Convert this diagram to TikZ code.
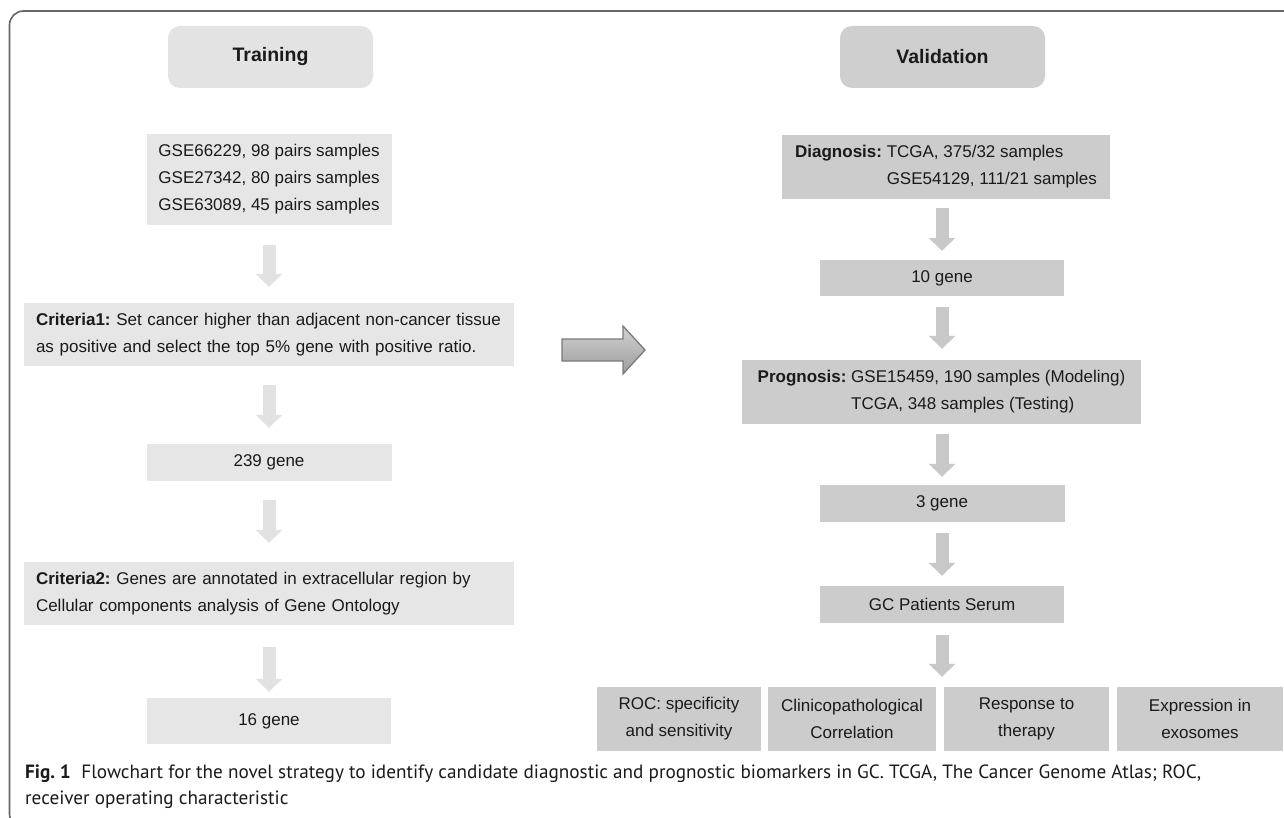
\documentclass[tikz,border=0pt]{standalone}
\usepackage{fontspec}
\setmainfont{Liberation Sans}
\newfontfamily\capfont{PT Sans}
\usetikzlibrary{arrows.meta,calc}
\definecolor{lboxc}{HTML}{E6E6E6}
\definecolor{lhdrc}{HTML}{E3E3E3}
\definecolor{larrc}{HTML}{E2E2E2}
\definecolor{rboxc}{HTML}{CCCCCC}
\definecolor{rhdrc}{HTML}{CFCFCF}
\definecolor{rarrc}{HTML}{C8C8C8}
\definecolor{txtc}{HTML}{1A1A1A}
\definecolor{framec}{HTML}{666666}
\definecolor{bigtop}{HTML}{D2D2D2}
\definecolor{bigbot}{HTML}{9C9C9C}
\definecolor{bigedge}{HTML}{7A7A7A}
\tikzset{
  base/.style={inner sep=0pt, font=\fontsize{17}{27}\selectfont\frenchspacing, text=txtc},
  hdr/.style={inner sep=0pt, rounded corners=12pt, minimum width=205pt, minimum height=62pt,
    font=\fontsize{19.5}{24}\selectfont\bfseries, text=txtc},
  lb/.style={base, fill=lboxc},
  rb/.style={base, fill=rboxc},
  larr/.style={line width=13pt, draw=larrc, -{Triangle[width=26pt,length=13pt]}},
  rarr/.style={line width=13pt, draw=rarrc, -{Triangle[width=26pt,length=13pt]}},
  capnode/.style={inner sep=0pt, align=left, text=txtc,
    font=\capfont\fontsize{19.2}{26}\selectfont\frenchspacing}
}
\begin{document}
\begin{tikzpicture}[x=1pt,y=-1pt]
\useasboundingbox (0,0) rectangle (1284,818);
\clip (0,0) rectangle (1284,818);
\fill[white] (0,0) rectangle (1284,818);
% page frame
\draw[framec, line width=1.6pt, rounded corners=14pt] (1300,11) -- (9.5,11) -- (9.5,828) -- (40,828);

% headers
\node[hdr, fill=lhdrc] (train) at (270.5,57) {Training};
\node[hdr, fill=rhdrc] (valid) at (942.5,57) {Validation};

% left column
\node[lb, minimum width=245pt, minimum height=91pt, align=left] (gse) at (269,179.5)
  {GSE66229, 98 pairs samples\\GSE27342, 80 pairs samples\\GSE63089, 45 pairs samples};
\node[lb, text width=466pt, inner xsep=12pt, minimum height=63pt, align=left] (c1) at (269,334.5)
  {\mbox{\textbf{Criteria1:} Set cancer higher than adjacent non-cancer tissue}\\\mbox{as positive and select the top 5\% gene with positive ratio.}};
\node[lb, minimum width=245pt, minimum height=37pt] (g239) at (269,462.5) {239 gene};
\node[lb, text width=466pt, inner xsep=12pt, minimum height=63pt, align=left] (c2) at (269,593.5)
  {\mbox{\textbf{Criteria2:} Genes are annotated in extracellular region by}\\\mbox{Cellular components analysis of Gene Ontology}};
\node[lb, minimum width=244pt, minimum height=46pt] (g16) at (269,721) {16 gene};

% right column
\node[rb, minimum width=328pt, minimum height=64pt, align=left] (diag) at (946,167)
  {\textbf{Diagnosis:} TCGA, 375/32 samples\\\phantom{\textbf{Diagnosis:} }GSE54129, 111/21 samples};
\node[rb, minimum width=244pt, minimum height=36pt] (g10) at (942,278) {10 gene};
\node[rb, minimum width=399pt, minimum height=64pt, align=left] (prog) at (941.5,392)
  {\textbf{Prognosis:} GSE15459, 190 samples (Modeling)\\\phantom{\textbf{Prognosis:} }TCGA, 348 samples (Testing)};
\node[rb, minimum width=245pt, minimum height=37pt] (g3) at (942,503.5) {3 gene};
\node[rb, minimum width=244pt, minimum height=37pt] (serum) at (942,604.5) {GC Patients Serum};

\node[rb, minimum width=164pt, minimum height=64pt, align=center] (b1) at (679,719)
  {ROC: specificity\\and sensitivity};
\node[rb, minimum width=168pt, minimum height=64pt, align=center] (b2) at (852,719)
  {Clinicopathological\\Correlation};
\node[rb, minimum width=165pt, minimum height=64pt, align=center] (b3) at (1026.5,719)
  {Response to\\therapy};
\node[rb, minimum width=166pt, minimum height=64pt, align=center] (b4) at (1200,719)
  {Expression in\\exosomes};
\coordinate (gap) at ($(b2.north east)!0.5!(b3.north west)+(0,-10)$);

% left arrows
\draw[larr] ($(gse.south)+(0,20)$) -- ($(c1.north)+(0,-16)$);
\draw[larr] ($(c1.south)+(0,19)$) -- ($(g239.north)+(0,-16)$);
\draw[larr] ($(g239.south)+(0,19)$) -- ($(c2.north)+(0,-19)$);
\draw[larr] ($(c2.south)+(0,22)$) -- ($(g16.north)+(0,-6)$);

% right arrows
\draw[rarr] ($(g10.north |- diag.south)+(0,9)$) -- ($(g10.north)+(0,-9)$);
\draw[rarr] ($(g10.south)+(0,11)$) -- ($(g10.south |- prog.north)+(0,-11)$);
\draw[rarr] ($(g3.north |- prog.south)+(0,10)$) -- ($(g3.north)+(0,-8)$);
\draw[rarr] ($(g3.south)+(0,11)$) -- ($(serum.north)+(0,-10)$);
\draw[rarr] ($(serum.south)+(0,12)$) -- (serum.south |- gap);

% big arrow between the two columns
\draw[bigedge, line width=1.3pt, top color=bigtop, bottom color=bigbot, line join=miter]
  (562,339) -- (623,339) -- (623,326) -- (645,350) -- (623,374) -- (623,361) -- (562,361) -- cycle;

% caption
\node[capnode, anchor=north west] (cap) at (25,765)
  {\textbf{Fig. 1}\hspace{0.55em}Flowchart for the novel strategy to identify candidate diagnostic and prognostic biomarkers in GC. TCGA, The Cancer Genome Atlas; ROC,\\receiver operating characteristic};
\end{tikzpicture}
\end{document}
